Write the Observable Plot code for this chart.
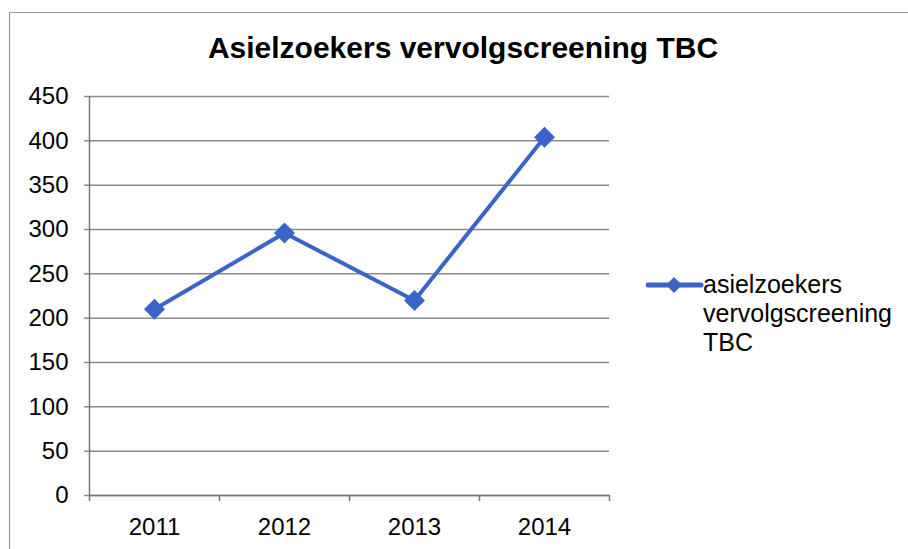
<!DOCTYPE html>
<html><head><meta charset="utf-8">
<script src="https://cdn.jsdelivr.net/npm/d3@7"></script>
<script src="https://cdn.jsdelivr.net/npm/@observablehq/plot@0.6"></script>
<style>
body{margin:0;background:#fff;}
#wrap{position:relative;width:908px;height:549px;overflow:hidden;font-family:"Liberation Sans",Arial,sans-serif;color:#000;}
#frame{position:absolute;left:9px;top:12px;width:920px;height:560px;border-left:1.5px solid #8f8f8f;border-top:1.5px solid #9a9a9a;}
#title{position:absolute;left:463px;top:31px;transform:translateX(-50%);font-weight:bold;font-size:30px;line-height:34px;white-space:nowrap;}
#legend{position:absolute;left:646px;top:270px;}
#legend svg{position:absolute;left:0;top:0;}
#legtext{position:absolute;left:57px;top:0;font-size:25px;line-height:29px;white-space:nowrap;}
#chart{position:absolute;left:0;top:0;}
</style></head><body>
<div id="wrap">
  <div id="frame"></div>
  <div id="chart"></div>
  <div id="title"></div>
  <div id="legend"></div>
</div>
<script>
const years = ["2011", "2012", "2013", "2014"];
const values = [210, 296, 220, 404];
const yTicks = [0, 50, 100, 150, 200, 250, 300, 350, 400, 450];
const titleText = "Asielzoekers vervolgscreening TBC";
const seriesLines = ["asielzoekers", "vervolgscreening", "TBC"];
const lineColor = "#3a64c8";
const gridColor = "#8a8a8a";

const data = years.map((y, i) => ({pos: i + 0.5, year: y, value: values[i]}));
const bounds = d3.range(years.length + 1);
const centers = years.map((y, i) => i + 0.5);

const chart = Plot.plot({
  width: 908,
  height: 549,
  marginLeft: 89,
  marginRight: 299,
  marginTop: 96,
  marginBottom: 54,
  style: {fontFamily: '"Liberation Sans", Arial, sans-serif', background: "transparent"},
  x: {type: "linear", domain: [0, years.length], axis: null, label: null},
  y: {domain: [0, 450], axis: null, label: null},
  marks: [
    Plot.ruleY(yTicks, {y: d => d, x1: 0, x2: years.length, stroke: gridColor, strokeWidth: 1.5}),
    Plot.axisY(yTicks, {anchor: "left", label: null, tickSize: 5, tickPadding: 16, fontSize: 24, stroke: gridColor, strokeWidth: 1.5, fill: "#000"}),
    Plot.ruleX([0], {y1: 0, y2: 450, stroke: "#777", strokeWidth: 1.5}),
    Plot.ruleY([0], {x1: 0, x2: years.length, stroke: "#777", strokeWidth: 1.5}),
    Plot.axisX(bounds, {anchor: "bottom", label: null, tickSize: 6, tickFormat: () => "", stroke: "#777", strokeWidth: 1.5}),
    Plot.axisX(centers, {anchor: "bottom", label: null, tickSize: 0, tickPadding: 22, fontSize: 24, fill: "#000", tickFormat: d => years[Math.floor(d)]}),
    Plot.line(data, {x: "pos", y: "value", stroke: lineColor, strokeWidth: 4}),
    Plot.dot(data, {x: "pos", y: "value", symbol: "diamond2", r: 8.5, fill: lineColor, stroke: lineColor, strokeWidth: 1.5})
  ]
});
document.getElementById("chart").appendChild(chart);
document.getElementById("title").textContent = titleText;

const legend = document.getElementById("legend");
legend.innerHTML = `<svg width="60" height="30"><line x1="2" y1="15" x2="55" y2="15" stroke="${lineColor}" stroke-width="5" stroke-linecap="round"/><path d="M28,7 L36,15 L28,23 L20,15 Z" fill="${lineColor}"/></svg><div id="legtext"></div>`;
document.getElementById("legtext").innerHTML = seriesLines.join("<br>");
</script>
</body></html>
